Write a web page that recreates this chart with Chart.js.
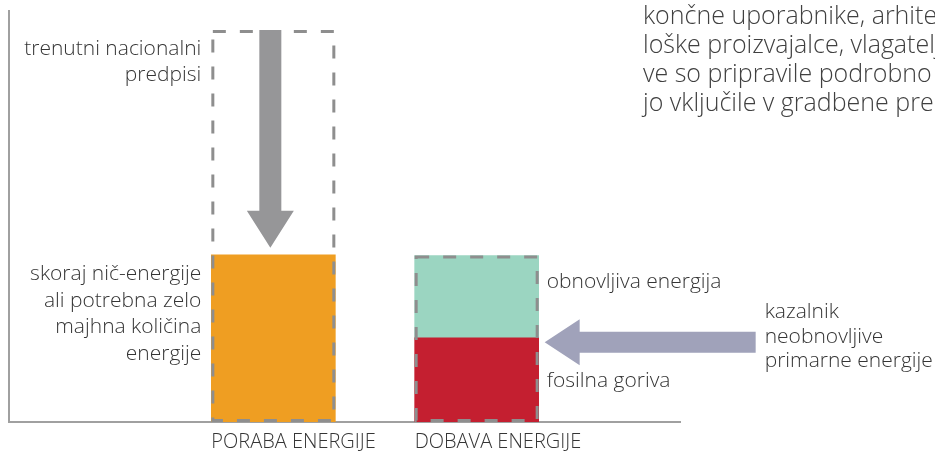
<!DOCTYPE html>
<html>
<head>
<meta charset="utf-8">
<script src="https://cdn.jsdelivr.net/npm/chart.js@4.4.1/dist/chart.umd.min.js"></script>
<style>
  html, body { margin: 0; padding: 0; background: #fff; }
  canvas { display: block; }
</style>
</head>
<body>
<canvas id="energyChart" width="935" height="463"></canvas>
<script>
// bar positions on the x axis and their names
const categories = ['PORABA ENERGIJE', 'DOBAVA ENERGIJE'];
const positions = [1, 2];

// heights (relative units, axis 0..100)
const demand = [40.7, null];      // skoraj nič-energije
const fossil = [null, 20.5];      // fosilna goriva
const renewable = [null, 20.0];   // obnovljiva energija
const envelope = [95.4, 40.5];    // dashed outlines

// annotation texts
const regulationNote = ['trenutni nacionalni', 'predpisi'];
const nzebNote = ['skoraj nič-energije', 'ali potrebna zelo', 'majhna količina', 'energije'];
const renewableNote = ['obnovljiva energija'];
const fossilNote = ['fosilna goriva'];
const indicatorNote = ['kazalnik', 'neobnovljive', 'primarne energije'];
const bodyText = [
    'končne uporabnike, arhitekte,',
    'loške proizvajalce, vlagatelje',
    've so pripravile podrobno',
    'jo vključile v gradbene predpise.'
];

const FONT = '"Open Sans", "Noto Sans", sans-serif';
const TEXT = '#353535';

const toPoints = arr => positions
    .map((x, i) => ({ x: x, y: arr[i] }))
    .filter(p => p.y !== null);

function drawLines(ctx, lines, x, y, step, align) {
    ctx.textAlign = align;
    lines.forEach((t, i) => ctx.fillText(t, x, y + i * step));
}

const notesPlugin = {
    id: 'notes',
    afterDatasetsDraw(chart) {
        const ctx = chart.ctx;
        const outline = chart.getDatasetMeta(3).data;
        const fossilBar = chart.getDatasetMeta(1).data[0];
        const demandBar = chart.getDatasetMeta(0).data[0];

        ctx.save();
        // dashed outlines
        ctx.strokeStyle = '#8e8e8e';
        ctx.lineWidth = 3;
        ctx.setLineDash([13, 14]);
        outline.forEach(b => {
            const l = b.x - b.width / 2;
            ctx.strokeRect(l + 1.5, b.y + 1.5, b.width - 3, b.base - b.y - 3);
        });
        ctx.setLineDash([]);

        // grey arrow: current regulations down to nZEB level
        const b0 = outline[0];
        const ax = b0.x - 3;
        const aTop = b0.y;
        const aTip = demandBar.y - 7;
        const headLen = 37;
        ctx.fillStyle = '#969698';
        ctx.beginPath();
        ctx.moveTo(ax - 11, aTop);
        ctx.lineTo(ax + 11, aTop);
        ctx.lineTo(ax + 11, aTip - headLen);
        ctx.lineTo(ax + 23.5, aTip - headLen);
        ctx.lineTo(ax, aTip);
        ctx.lineTo(ax - 23.5, aTip - headLen);
        ctx.lineTo(ax - 11, aTip - headLen);
        ctx.closePath();
        ctx.fill();

        // purple arrow: non-renewable primary energy indicator
        const tipX = fossilBar.x + fossilBar.width / 2 + 6;
        const ay = fossilBar.y + 4.5;
        const tailX = tipX + 211;
        ctx.fillStyle = '#a0a2ba';
        ctx.beginPath();
        ctx.moveTo(tipX, ay);
        ctx.lineTo(tipX + 35, ay - 23);
        ctx.lineTo(tipX + 35, ay - 10.5);
        ctx.lineTo(tailX, ay - 10.5);
        ctx.lineTo(tailX, ay + 10.5);
        ctx.lineTo(tipX + 35, ay + 10.5);
        ctx.lineTo(tipX + 35, ay + 23);
        ctx.closePath();
        ctx.fill();

        // texts
        ctx.fillStyle = TEXT;
        ctx.textBaseline = 'alphabetic';
        ctx.font = '300 21px ' + FONT;
        const leftX = b0.x - b0.width / 2 - 10;
        drawLines(ctx, regulationNote, leftX, 55, 26, 'right');
        drawLines(ctx, nzebNote, leftX, 280, 26.5, 'right');
        const rightX = fossilBar.x + fossilBar.width / 2 + 8;
        drawLines(ctx, renewableNote, rightX, 288, 26, 'left');
        drawLines(ctx, fossilNote, rightX, 387, 26, 'left');
        drawLines(ctx, indicatorNote, tailX + 9, 318, 24.5, 'left');
        ctx.font = '300 25px ' + FONT;
        ctx.fillStyle = '#404040';
        drawLines(ctx, bodyText, 643, 24, 29, 'left');
        ctx.restore();
    }
};

new Chart(document.getElementById('energyChart'), {
    type: 'bar',
    data: {
        datasets: [
            { label: 'skoraj nič-energije', data: toPoints(demand), backgroundColor: '#ef9e22', stack: 'fill', barThickness: 124 },
            { label: 'fosilna goriva', data: toPoints(fossil), backgroundColor: '#c41f30', stack: 'fill', barThickness: 124 },
            { label: 'obnovljiva energija', data: toPoints(renewable), backgroundColor: '#9bd5c1', stack: 'fill', barThickness: 124 },
            { label: 'okvir', data: toPoints(envelope), backgroundColor: 'rgba(0,0,0,0)', stack: 'outline',
              grouped: false, maxBarThickness: 124, barPercentage: 1 }
        ]
    },
    options: {
        responsive: false,
        animation: false,
        layout: { padding: { left: 9, top: 11, right: 255, bottom: 1 } },
        plugins: {
            legend: { display: false },
            tooltip: { enabled: false }
        },
        scales: {
            x: {
                type: 'linear',
                offset: false,
                min: -0.3,
                max: 3.0,
                afterBuildTicks: axis => { axis.ticks = positions.map(v => ({ value: v })); },
                ticks: {
                    callback: v => categories[positions.indexOf(v)],
                    align: 'start',
                    labelOffset: -62,
                    padding: 8,
                    maxRotation: 0,
                    autoSkip: false,
                    color: TEXT,
                    font: { family: FONT, size: 20, weight: 300 }
                },
                grid: { display: false, drawTicks: false },
                border: { display: true, color: '#a0a0a0', width: 2 }
            },
            y: {
                stacked: true,
                min: 0,
                max: 100,
                ticks: { display: false },
                grid: { display: false, drawTicks: false },
                border: { display: true, color: '#a0a0a0', width: 2 }
            }
        }
    },
    plugins: [notesPlugin]
});
</script>
</body>
</html>
